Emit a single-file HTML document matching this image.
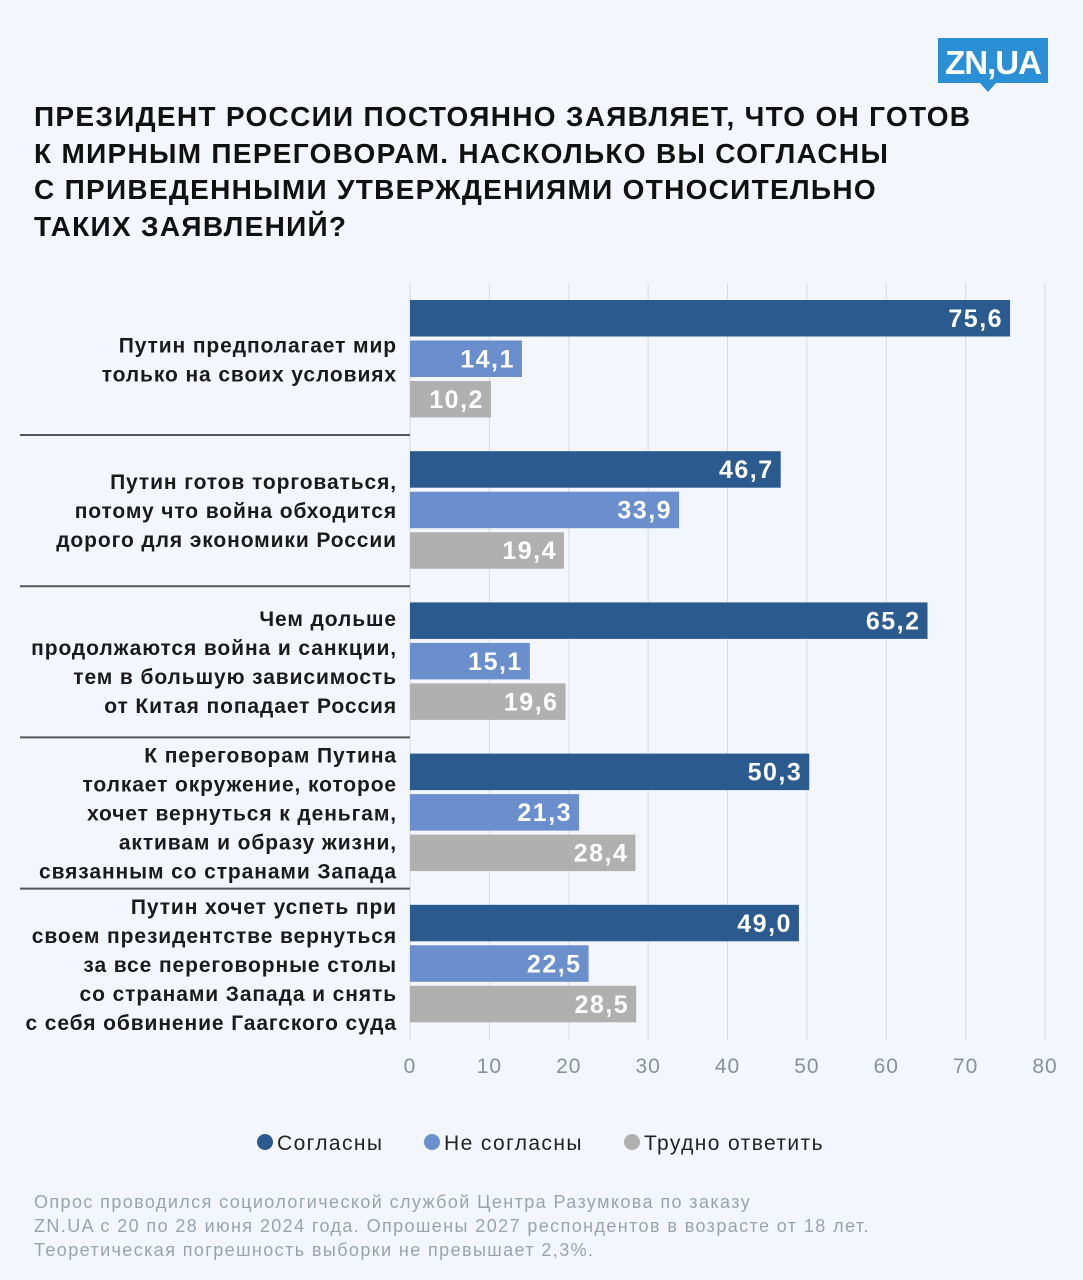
<!DOCTYPE html>
<html><head><meta charset="utf-8"><style>
body{margin:0;background:#f3f7fd;}
svg{display:block;font-family:"Liberation Sans","DejaVu Sans",sans-serif;}
</style></head><body>
<svg id="chart" width="1083" height="1280" viewBox="0 0 1083 1280">
<rect width="1083" height="1280" fill="#f3f7fd"/>
<g>
<rect x="938" y="38" width="110" height="45" fill="#2a8fd5"/>
<polygon points="980,83 996,83 988,92" fill="#2a8fd5"/>
<text x="993" y="74" text-anchor="middle" font-size="33" font-weight="bold" fill="#fff" letter-spacing="-1">ZN,UA</text>
</g>
<g font-size="28" font-weight="bold" fill="#111" letter-spacing="1.3">
<text x="34" y="126">ПРЕЗИДЕНТ РОССИИ ПОСТОЯННО ЗАЯВЛЯЕТ, ЧТО ОН ГОТОВ</text>
<text x="34" y="163">К МИРНЫМ ПЕРЕГОВОРАМ. НАСКОЛЬКО ВЫ СОГЛАСНЫ</text>
<text x="34" y="199">С ПРИВЕДЕННЫМИ УТВЕРЖДЕНИЯМИ ОТНОСИТЕЛЬНО</text>
<text x="34" y="236">ТАКИХ ЗАЯВЛЕНИЙ?</text>
</g>
<g id="grid"></g><g id="bars"></g><g id="labels"></g><g id="ticks"></g>
<g font-size="21" fill="#222" letter-spacing="1.4">
<circle cx="265" cy="1142" r="8" fill="#2b5a8e"/>
<text x="277" y="1150">Согласны</text>
<circle cx="432" cy="1142" r="8" fill="#6a8fcc"/>
<text x="444" y="1150">Не согласны</text>
<circle cx="632" cy="1142" r="8" fill="#b0b0b0"/>
<text x="644" y="1150">Трудно ответить</text>
</g>
<g font-size="18" fill="#9aa3ad" letter-spacing="1.4">
<text x="34" y="1208">Опрос проводился социологической службой Центра Разумкова по заказу</text>
<text x="34" y="1232">ZN.UA с 20 по 28 июня 2024 года. Опрошены 2027 респондентов в возрасте от 18 лет.</text>
<text x="34" y="1256">Теоретическая погрешность выборки не превышает 2,3%.</text>
</g>
</svg>
<script>
const categories=[
["Путин предполагает мир","только на своих условиях"],
["Путин готов торговаться,","потому что война обходится","дорого для экономики России"],
["Чем дольше","продолжаются война и санкции,","тем в большую зависимость","от Китая попадает Россия"],
["К переговорам Путина","толкает окружение, которое","хочет вернуться к деньгам,","активам и образу жизни,","связанным со странами Запада"],
["Путин хочет успеть при","своем президентстве вернуться","за все переговорные столы","со странами Запада и снять","с себя обвинение Гаагского суда"]];
const agree=[75.6,46.7,65.2,50.3,49.0];
const disagree=[14.1,33.9,15.1,21.3,22.5];
const hard=[10.2,19.4,19.6,28.4,28.5];
const ticks=[0,10,20,30,40,50,60,70,80];
const NS="http://www.w3.org/2000/svg";
const x=v=>410+v*(635/80);
const gy=i=>300+i*151.2;
function mk(t,a,p){const e=document.createElementNS(NS,t);for(const k in a)e.setAttribute(k,a[k]);p.appendChild(e);return e;}
const G=document.getElementById('grid'),B=document.getElementById('bars'),L=document.getElementById('labels'),T=document.getElementById('ticks');
ticks.forEach(t=>{
const l=mk('line',{x1:x(t),x2:x(t),y1:283,y2:1040,stroke:'#d6dbe1','stroke-width':1},G);


const tx=mk('text',{x:x(t),y:1073,'text-anchor':'middle','font-size':21,fill:'#8a9096','letter-spacing':1},T);
tx.textContent=t;


});
const series=[[agree,'#2b5a8e','agree'],[disagree,'#6a8fcc','disagree'],[hard,'#b0b0b0','hard']];
categories.forEach((lines,i)=>{
const y0=gy(i);
series.forEach(([arr,col,nm],j)=>{
const by=y0+j*40.5;
const r=mk('rect',{x:x(0),y:by,width:x(arr[i])-x(0),height:36.5,fill:col},B);


const t=mk('text',{x:x(arr[i])-7,y:by+27,'text-anchor':'end','font-size':25,'font-weight':'bold',fill:'#fff','letter-spacing':1.5},B);
t.textContent=arr[i].toFixed(1).replace('.',',');


});
const n=lines.length,lh=29,cy=y0+59;
lines.forEach((s,k)=>{
const t=mk('text',{x:397,y:cy-(n-1)*lh/2+k*lh+8,'text-anchor':'end','font-size':21,'font-weight':'bold',fill:'#1a1a1a','letter-spacing':0.9},L);
t.textContent=s;


});
if(i<categories.length-1){
const s=mk('line',{x1:20,x2:410,y1:y0+135,y2:y0+135,stroke:'#555','stroke-width':2},L);


}
});
</script>
</body></html>
